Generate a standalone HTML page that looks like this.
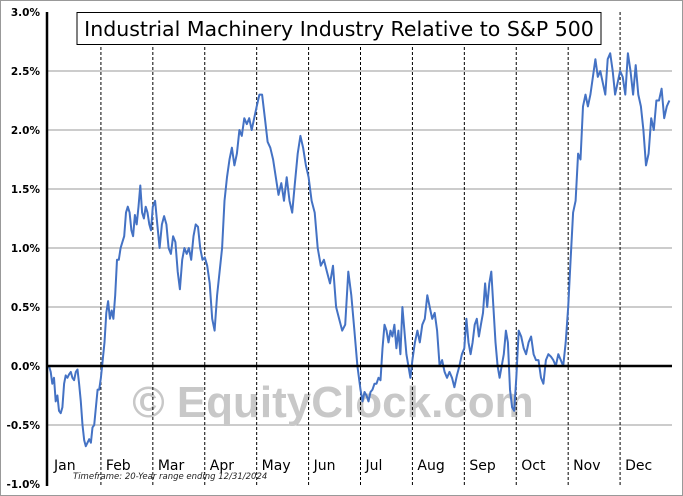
<!DOCTYPE html>
<html><head><meta charset="utf-8"><style>
body{margin:0;background:#fff}
svg{display:block;font-family:"DejaVu Sans","Liberation Sans",sans-serif}
</style></head><body>
<svg id="chart" width="683" height="496">
<rect x="0.5" y="0.5" width="682" height="495" fill="#fff" stroke="#999"/>
<g id="grid"></g>
<text x="333" y="417" font-size="44" font-weight="bold" fill="#c8c8c8" text-anchor="middle" font-family="Liberation Sans, sans-serif">© EquityClock.com</text>
<g id="months"></g>
<path id="line" fill="none" stroke="#4472c4" stroke-width="2" stroke-linejoin="round"/>
<g id="axes"></g>
<rect x="77" y="12.5" width="524" height="32" fill="#fff" stroke="#000"/>
<text x="339" y="36" font-size="20.5" text-anchor="middle">Industrial Machinery Industry Relative to S&amp;P 500</text>
<text x="73" y="479" font-size="8.5" font-style="italic" fill="#222">Timeframe: 20-Year range ending 12/31/2024</text>
</svg>
<script>
const yTicks=[3.0,2.5,2.0,1.5,1.0,0.5,0.0,-0.5,-1.0];
const months=["Jan","Feb","Mar","Apr","May","Jun","Jul","Aug","Sep","Oct","Nov","Dec"];
const monthCounts=[31,29,23,21,19,17,26,21,25,21,21,20];
const values=[0,-0.05,-0.15,-0.1,-0.3,-0.25,-0.38,-0.4,-0.35,-0.15,-0.08,-0.1,-0.07,-0.05,-0.1,-0.12,-0.05,-0.03,-0.15,-0.3,-0.5,-0.63,-0.68,-0.65,-0.62,-0.65,-0.52,-0.5,-0.35,-0.2,-0.2,
-0.1,0.05,0.2,0.45,0.55,0.4,0.47,0.4,0.6,0.9,0.9,1.0,1.05,1.1,1.3,1.35,1.3,1.15,1.1,1.28,1.2,1.35,1.53,1.3,1.25,1.35,1.3,1.2,1.15,
1.35,1.4,1.2,1.0,1.2,1.27,1.2,1.0,0.95,1.1,1.05,0.8,0.65,0.9,1.0,0.95,1.0,0.9,1.1,1.2,1.18,1.0,0.9,
0.92,0.85,0.7,0.4,0.3,0.6,0.8,1.0,1.4,1.6,1.75,1.85,1.7,1.8,2.0,1.95,2.1,2.05,2.1,2.0,2.1,
2.2,2.3,2.3,2.1,1.9,1.85,1.75,1.6,1.45,1.55,1.4,1.6,1.4,1.3,1.55,1.8,1.95,1.85,1.7,
1.6,1.4,1.3,1.0,0.85,0.9,0.8,0.7,0.85,0.5,0.4,0.3,0.35,0.8,0.6,0.3,0.0,
-0.2,-0.3,-0.22,-0.25,-0.3,-0.22,-0.2,-0.15,-0.15,-0.1,-0.12,0.15,0.35,0.3,0.2,0.3,0.25,0.35,0.15,0.3,0.1,0.5,0.3,0.1,0.0,-0.1,
0.05,0.2,0.3,0.2,0.35,0.4,0.6,0.5,0.4,0.45,0.3,0.0,0.05,-0.05,-0.1,-0.05,-0.1,-0.18,-0.08,0.0,0.1,
0.15,0.4,0.2,0.1,0.2,0.35,0.4,0.25,0.35,0.45,0.7,0.5,0.7,0.8,0.5,0.2,0.0,-0.1,0.0,0.1,0.3,0.2,-0.2,-0.35,-0.38,
-0.1,0.3,0.25,0.15,0.1,0.2,0.25,0.1,0.05,0.05,-0.1,-0.15,0.05,0.1,0.08,0.05,0.0,0.1,0.05,0.0,0.2,
0.5,0.9,1.3,1.4,1.8,1.75,2.2,2.3,2.2,2.3,2.45,2.6,2.45,2.5,2.4,2.3,2.6,2.65,2.5,2.3,2.4,
2.5,2.45,2.3,2.65,2.5,2.3,2.55,2.3,2.2,2.0,1.7,1.8,2.1,2.0,2.25,2.25,2.35,2.1,2.2,2.25];
const X0=49,X1=672,Y0=366,PX=118;
const y=v=>Y0-v*PX;
const mx=m=>X0+(X1-X0)*m/12;
const NS="http://www.w3.org/2000/svg";
function mk(t,a,p){const e=document.createElementNS(NS,t);for(const k in a)e.setAttribute(k,a[k]);p.appendChild(e);return e;}
const grid=document.getElementById('grid'),axes=document.getElementById('axes'),mg=document.getElementById('months');
yTicks.forEach(v=>{
  if(v!==0&&v!==3.0&&v!==-1.0){const l=mk('line',{x1:47,x2:X1,y1:y(v),y2:y(v),stroke:'#999','stroke-width':1},grid);
  
  }
  const t=mk('text',{x:40,y:y(v)+4,'font-size':10.5,'font-weight':'bold','text-anchor':'end'},axes);
  t.textContent=v.toFixed(1)+'%';
  
  
});
months.forEach((m,i)=>{
  if(i>0){const l=mk('line',{x1:mx(i),x2:mx(i),y1:12,y2:485,stroke:'#000','stroke-width':1,'stroke-dasharray':'3,2'},mg);
  
  }
  const t=mk('text',{x:mx(i)+5,y:470,'font-size':14,'text-anchor':'start'},mg);
  t.textContent=m;
  
  
});
let d='',idx=0;
monthCounts.forEach((c,m)=>{for(let j=0;j<c;j++){const v=values[idx];const xx=mx(m)+(mx(m+1)-mx(m))*j/c;d+=(idx?'L':'M')+xx.toFixed(1)+','+y(v).toFixed(1);idx++;}});
document.getElementById('line').setAttribute('d',d);
const za=mk('line',{x1:47,x2:X1,y1:Y0,y2:Y0,stroke:'#000','stroke-width':2.5},axes);


const ya=mk('line',{x1:47,x2:47,y1:12,y2:486,stroke:'#000','stroke-width':2.5},axes);


</script>
</body></html>
